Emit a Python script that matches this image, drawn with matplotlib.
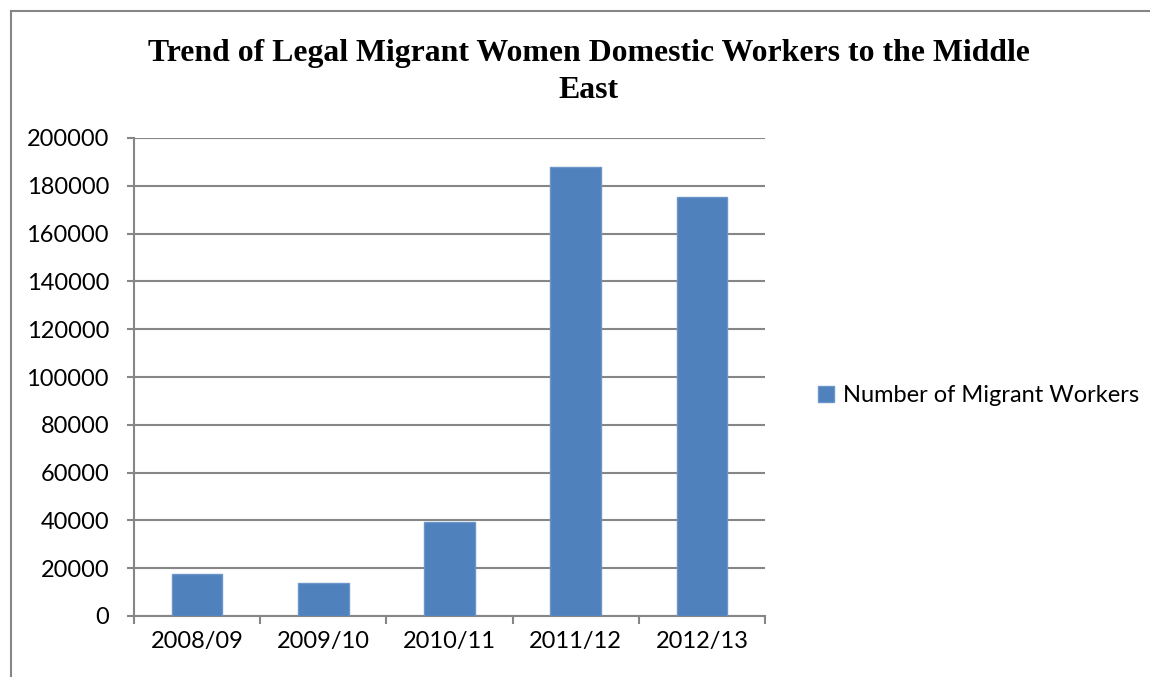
import matplotlib
matplotlib.use("Agg")
import matplotlib.pyplot as plt
from matplotlib.lines import Line2D

categories = ["2008/09", "2009/10", "2010/11", "2011/12", "2012/13"]
values = [17500, 13600, 39400, 187800, 175400]
series_name = "Number of Migrant Workers"
title = "Trend of Legal Migrant Women Domestic Workers to the Middle\nEast"
yticks = list(range(0, 200001, 20000))

fig = plt.figure(figsize=(11.5, 6.77), dpi=100)
ax = fig.add_axes([134/1150, 61/677, (765-134)/1150, (616-138)/677])

x = list(range(len(categories)))
bars = ax.bar(x, values, width=0.4, color="#4F81BD", edgecolor="#6C95C8",
              linewidth=1, label=series_name, zorder=3)

ax.set_xlim(-0.5, len(categories) - 0.5)
ax.set_ylim(0, 200000)
ax.set_yticks(yticks)
ax.set_yticklabels([str(v) for v in yticks], fontfamily="Lato", fontsize=17)
ax.yaxis.grid(True, color="#868686", linewidth=1.5, zorder=0)

ax.set_xticks([i - 0.5 for i in range(len(categories) + 1)])
ax.set_xticklabels([])
ax.set_xticks(x, minor=True)
ax.set_xticklabels(categories, minor=True, fontfamily="Lato", fontsize=17)
ax.tick_params(axis="x", which="minor", length=0, pad=11)
ax.tick_params(axis="x", which="major", length=6, width=1.5, color="#868686")
ax.tick_params(axis="y", length=5, width=1.5, color="#868686", pad=13)

for s in ["top", "right"]:
    ax.spines[s].set_visible(False)
for s in ["left", "bottom"]:
    ax.spines[s].set_color("#868686")
    ax.spines[s].set_linewidth(1.5)

fig.text(0.512, 1 - 98/677, title, ha="center", va="baseline",
         fontfamily="Liberation Serif", fontweight="bold", fontsize=22.9,
         linespacing=1.38)

leg = fig.legend(handles=[bars], labels=[series_name], loc="center left",
                 bbox_to_anchor=(806/1150, 1 - 396/677), frameon=False,
                 prop={"family": "Lato", "size": 17}, handlelength=0.67,
                 handleheight=0.67, handletextpad=0.38, borderpad=0)

# chart outer frame (left and top edges visible)
fig.add_artist(Line2D([11/1150, 11/1150], [0, 1 - 11/677],
                      transform=fig.transFigure, color="#868686", linewidth=1.5))
fig.add_artist(Line2D([11/1150, 1], [1 - 11/677, 1 - 11/677],
                      transform=fig.transFigure, color="#868686", linewidth=1.5))

fig.savefig("out.png", dpi=100)
